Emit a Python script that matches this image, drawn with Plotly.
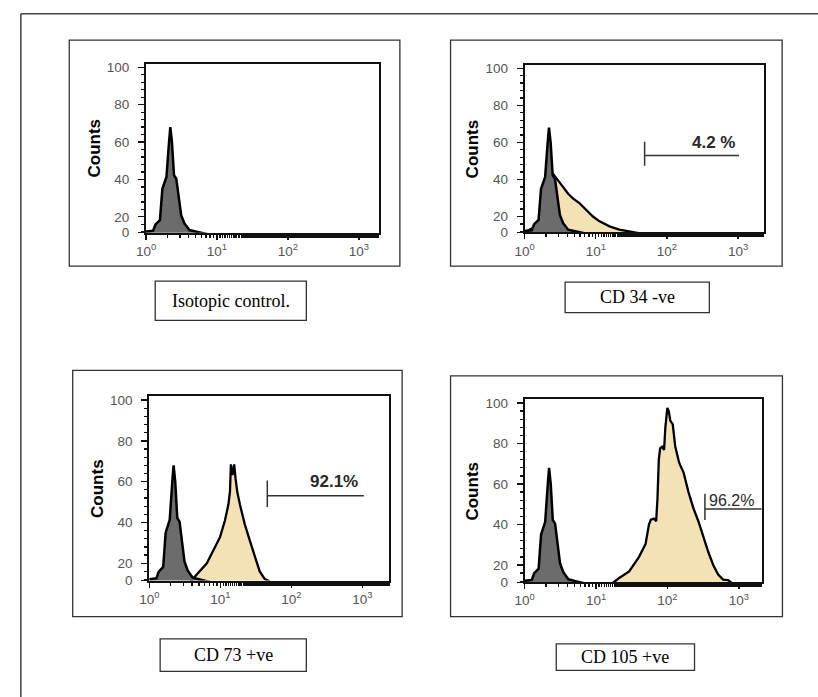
import math
import plotly.graph_objects as go

W, H = 818, 697

# ---------------- data ----------------
# Isotype control histogram (same control overlay in every panel)
ISO_INT = [1.0, 1.26, 1.36, 1.57, 1.70, 1.94, 2.11, 2.20, 2.32, 2.48, 2.67, 2.88, 3.13, 3.48, 4.09, 5.33, 7.1, 9.0]
ISO_CNT = [12.2, 12.6, 15.9, 18.2, 35.0, 41.3, 60.0, 68.0, 60.0, 42.2, 40.4, 29.8, 20.9, 16.4, 12.9, 11.9, 11.0, 10.0]

# CD 34 (negative)
CD34_INT = [1.0, 1.08, 1.41, 1.65, 1.84, 2.04, 2.28, 2.53, 2.97, 3.48, 4.09, 4.81, 5.94, 7.36, 9.12, 11.3, 15.6, 21.4, 29.5, 40.0]
CD34_CNT = [11.0, 12.1, 14.7, 18.3, 28.8, 37.6, 42.0, 42.9, 39.4, 35.8, 32.3, 29.7, 27.1, 23.5, 20.0, 17.4, 14.7, 13.0, 12.1, 11.0]

# CD 73 (positive)
CD73_INT = [3.8, 4.44, 5.21, 6.46, 8.00, 9.91, 11.6, 13.0, 13.7, 14.1, 14.9, 15.7, 16.4, 17.3, 18.9, 22.1, 26.0, 30.5, 35.9, 42.1, 50.0]
CD73_CNT = [11.0, 13.6, 16.0, 20.0, 26.4, 32.8, 40.8, 48.8, 55.2, 68.5, 63.2, 68.5, 61.6, 55.2, 48.8, 39.2, 31.2, 23.2, 16.0, 12.3, 11.0]

# CD 105 (positive)
CD105_INT = [17.0, 21.1, 29.1, 40.0, 49.4, 55.1, 58.6, 64.6, 69.5, 72.5, 75.7, 79.0, 84.2, 89.7, 93.5, 99.7,
             104.2, 109.8, 118.5, 128.8, 146.2, 168.3, 197.2, 231.2, 271.0, 318.4, 373.3, 437.5, 513.6, 602.6, 706.3, 800.0]
CD105_CNT = [11.0, 13.6, 16.8, 24.0, 30.4, 40.0, 42.4, 42.9, 41.6, 52.8, 72.0, 77.6, 78.4, 76.8, 88.0, 97.6,
             96.0, 91.2, 89.6, 78.4, 70.4, 65.6, 56.0, 48.0, 41.6, 33.6, 26.4, 20.0, 15.2, 12.8, 12.5, 11.0]

PANEL_TITLES = ["Isotopic control.", "CD 34 -ve", "CD 73 +ve", "CD 105 +ve"]
GATE_TEXT = [None, "4.2 %", "92.1%", "96.2%"]
GATE_START = [None, 48.6, 45.9, 335.0]
GATE_END = [None, 1030.0, 1050.0, 2100.0]
GATE_LEVEL = [None, 52.9, 53.1, 47.7]

X_TICK_VALS = [1, 10, 100, 1000]
X_TICK_TEXT = ["10<sup>0</sup>", "10<sup>1</sup>", "10<sup>2</sup>", "10<sup>3</sup>"]
Y_ZERO = 11.5          # level at which the "0" label sits (histogram baseline)
Y_TICK_VALS = [Y_ZERO, 20, 40, 60, 80, 100]
Y_TICK_TEXT = ["0", "20", "40", "60", "80", "100"]
Y_TOP = 101.8

POS_INT = [None, CD34_INT, CD73_INT, CD105_INT]
POS_CNT = [None, CD34_CNT, CD73_CNT, CD105_CNT]

# ---------------- layout geometry (pixels) ----------------
PLOT_BOX = [(137.7, 61.0, 373.3, 232.7),
            (521.0, 62.0, 763.0, 232.3),
            (141.0, 399.3, 384.0, 586.7),
            (521.0, 402.3, 761.0, 588.3)]
X_MAX_LOG = [3.28, 3.36, 3.38, 3.32]
FRAME_BOX = [(60.0, 36.7, 394.7, 266.7),
             (446.0, 36.7, 781.7, 266.7),
             (63.5, 372.7, 397.0, 623.3),
             (446.0, 378.3, 782.0, 623.3)]
CAPTION_BOX = [(147, 282, 300, 322),
               (562, 283, 708, 314),
               (152, 646, 300, 679),
               (553, 651, 693, 678)]
LABEL_FRAC = [None, 0.73, 0.69, None]


def fx(p):
    return p / W


def fy(p):
    return 1 - p / H


BEIGE = "#f4e2b6"
GRAY = "#6c6c6c"
TICK_FONT = dict(family="Liberation Sans, Arial", size=13.5, color="#555555")

fig = go.Figure()
shapes = []
annotations = []

for i in range(4):
    s = "" if i == 0 else str(i + 1)
    xa, ya = "x" + s, "y" + s
    x0, y0, x1, y1 = PLOT_BOX[i]

    if POS_INT[i] is not None:
        fig.add_trace(go.Scatter(x=POS_INT[i], y=POS_CNT[i], mode="lines",
                                 line=dict(color="black", width=2.3),
                                 fill="tozeroy", fillcolor=BEIGE,
                                 xaxis=xa, yaxis=ya, showlegend=False,
                                 hoverinfo="skip"))
    fig.add_trace(go.Scatter(x=ISO_INT, y=ISO_CNT, mode="lines",
                             line=dict(color="black", width=2.5),
                             fill="tozeroy", fillcolor=GRAY,
                             xaxis=xa, yaxis=ya, showlegend=False,
                             hoverinfo="skip"))

    if GATE_TEXT[i] is not None:
        g0, g1, lv = GATE_START[i], GATE_END[i], GATE_LEVEL[i]
        fig.add_trace(go.Scatter(x=[g0, g1], y=[lv, lv], mode="lines",
                                 line=dict(color="#333333", width=1.5),
                                 xaxis=xa, yaxis=ya, showlegend=False,
                                 hoverinfo="skip"))
        fig.add_trace(go.Scatter(x=[g0, g0], y=[lv - 5.5, lv + 7.5], mode="lines",
                                 line=dict(color="#333333", width=1.5),
                                 xaxis=xa, yaxis=ya, showlegend=False,
                                 hoverinfo="skip"))
        l0, l1 = math.log10(g0), math.log10(g1)
        if LABEL_FRAC[i] is not None:
            annotations.append(dict(x=l0 + LABEL_FRAC[i] * (l1 - l0), y=lv + 7.0,
                                    xref=xa, yref=ya, text="<b>%s</b>" % GATE_TEXT[i],
                                    showarrow=False, xanchor="center", yanchor="middle",
                                    font=dict(family="Liberation Sans, Arial", size=17, color="#2a2a2a")))
        else:
            annotations.append(dict(x=l0 + 0.03, y=lv - 1.0, xref=xa, yref=ya,
                                    text=GATE_TEXT[i], showarrow=False,
                                    xanchor="left", yanchor="bottom",
                                    font=dict(family="Liberation Sans, Arial", size=16, color="#2a2a2a")))

    axis_common = dict(showline=True, linecolor="#111111", linewidth=2, mirror=True,
                       ticks="outside", tickcolor="#111111", tickwidth=1.3,
                       showgrid=False, zeroline=False, tickfont=TICK_FONT)
    fig.update_layout(**{
        "xaxis" + s: dict(type="log", range=[0, X_MAX_LOG[i]], domain=[fx(x0), fx(x1)],
                          anchor=ya, tickvals=X_TICK_VALS, ticktext=X_TICK_TEXT,
                          ticklen=5,
                          minor=dict(ticks="outside", ticklen=3, tickcolor="#111111",
                                     showgrid=False),
                          **axis_common),
        "yaxis" + s: dict(range=[Y_ZERO, Y_TOP], domain=[fy(y1), fy(y0)],
                          anchor=xa, tickvals=Y_TICK_VALS, ticktext=Y_TICK_TEXT,
                          ticklen=6, ticklabelstandoff=6,
                          minor=dict(ticks="outside", ticklen=3, tickcolor="#111111",
                                     dtick=4, tick0=0, showgrid=False),
                          **axis_common),
    })

    # "Counts" axis title
    annotations.append(dict(x=fx(x0 - 52.5), y=fy((y0 + y1) / 2), xref="paper", yref="paper",
                            text="<b>Counts</b>", textangle=-90, showarrow=False,
                            xanchor="center", yanchor="middle",
                            font=dict(family="Liberation Sans, Arial", size=17, color="black")))

    # panel frame
    fx0, fy0, fx1, fy1 = FRAME_BOX[i]
    shapes.append(dict(type="rect", xref="paper", yref="paper",
                       x0=fx(fx0), x1=fx(fx1), y0=fy(fy1), y1=fy(fy0),
                       line=dict(color="#333333", width=1.3)))

    # caption box
    cx0, cy0, cx1, cy1 = CAPTION_BOX[i]
    shapes.append(dict(type="rect", xref="paper", yref="paper",
                       x0=fx(cx0), x1=fx(cx1), y0=fy(cy1), y1=fy(cy0),
                       line=dict(color="#333333", width=1.3)))
    annotations.append(dict(x=fx((cx0 + cx1) / 2), y=fy((cy0 + cy1) / 2),
                            xref="paper", yref="paper", text=PANEL_TITLES[i],
                            showarrow=False, xanchor="center", yanchor="middle",
                            font=dict(family="Liberation Serif, Times New Roman", size=18, color="black")))

# outer frame (left and top edges visible)
shapes.append(dict(type="line", xref="paper", yref="paper",
                   x0=fx(11), x1=fx(830), y0=fy(10), y1=fy(10),
                   line=dict(color="#444444", width=1.5)))
shapes.append(dict(type="line", xref="paper", yref="paper",
                   x0=fx(11), x1=fx(11), y0=fy(10), y1=fy(710),
                   line=dict(color="#444444", width=1.5)))

fig.update_layout(width=W, height=H, margin=dict(l=0, r=0, t=0, b=0),
                  paper_bgcolor="white", plot_bgcolor="white",
                  shapes=shapes, annotations=annotations, showlegend=False)

fig.write_html("out.html",
               config={"displayModeBar": False, "staticPlot": True},
               post_script="document.body.style.margin='0px';document.body.style.overflow='hidden';")
